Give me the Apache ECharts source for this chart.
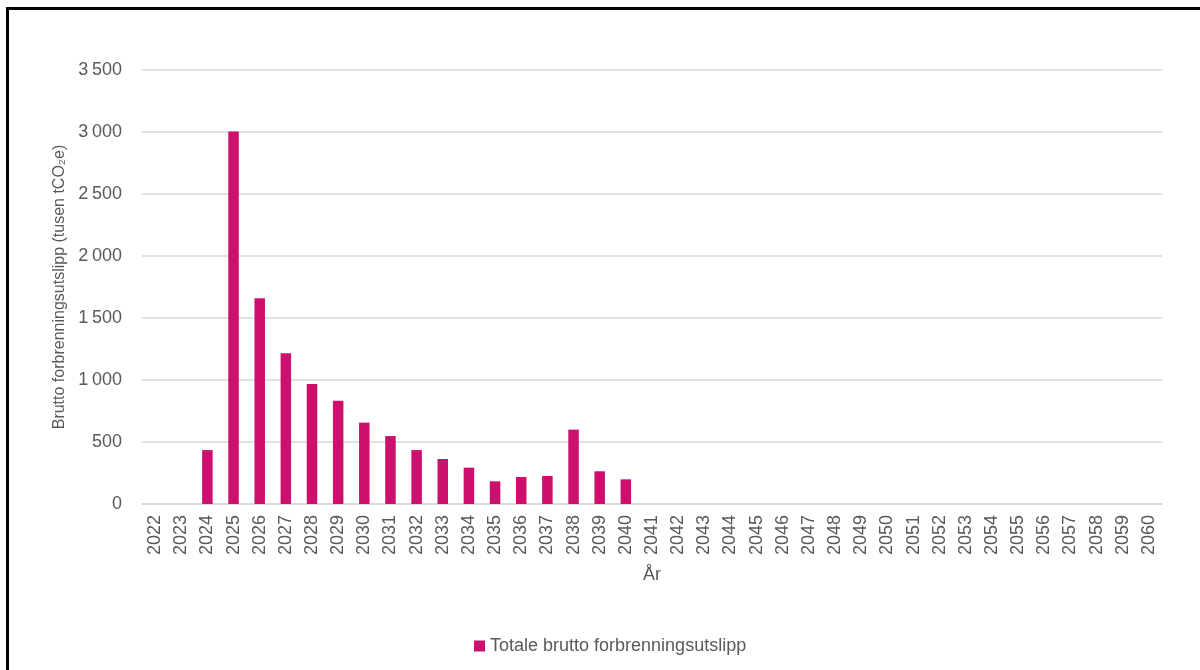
<!DOCTYPE html>
<html>
<head>
<meta charset="utf-8">
<script src="https://cdn.jsdelivr.net/npm/echarts@6/dist/echarts.min.js"></script>
<style>
  html, body { margin: 0; padding: 0; background: #fff; }
  #frame { position: absolute; left: 6px; top: 7px; width: 1300px; height: 800px;
           border-left: 3px solid #000; border-top: 3px solid #000; box-sizing: border-box; }
  #chart { position: absolute; left: 0; top: 0; width: 1200px; height: 670px; }
</style>
</head>
<body>
<div id="frame"></div>
<div id="chart"></div>
<script>
const years = ['2022','2023','2024','2025','2026','2027','2028','2029','2030','2031','2032','2033','2034','2035','2036','2037','2038','2039','2040','2041','2042','2043','2044','2045','2046','2047','2048','2049','2050','2051','2052','2053','2054','2055','2056','2057','2058','2059','2060'];
const emissions = [0, 0, 435, 3005, 1660, 1215, 968, 833, 656, 548, 435, 363, 293, 183, 218, 226, 600, 264, 199, 0, 0, 0, 0, 0, 0, 0, 0, 0, 0, 0, 0, 0, 0, 0, 0, 0, 0, 0, 0];
const seriesName = 'Totale brutto forbrenningsutslipp';
const yAxisName = 'Brutto forbrenningsutslipp (tusen tCO\u2082e)';
const xAxisName = 'År';

const textColor = '#595959';
const font = 'Liberation Sans, Arial, sans-serif';

const chart = echarts.init(document.getElementById('chart'), null, { renderer: 'canvas' });
chart.setOption({
  animation: false,
  backgroundColor: 'transparent',
  grid: { left: 142, right: 38, top: 70, bottom: 166, containLabel: false },
  legend: {
    left: 469, top: 632,
    itemWidth: 11, itemHeight: 11, itemGap: 6,
    icon: 'rect',
    textStyle: { color: textColor, fontSize: 18, fontFamily: font, padding: [0, 0, 0, 0] },
    data: [seriesName]
  },
  xAxis: {
    type: 'category',
    data: years,
    name: xAxisName,
    nameLocation: 'middle',
    nameGap: 62,
    nameTextStyle: { color: textColor, fontSize: 18, fontFamily: font },
    axisLine: { show: true, lineStyle: { color: '#D9D9D9', width: 1.5 } },
    axisTick: { show: false },
    axisLabel: { rotate: 90, interval: 0, margin: 11, color: textColor, fontSize: 18, fontFamily: font }
  },
  yAxis: {
    type: 'value',
    min: 0, max: 3500, interval: 500,
    name: yAxisName,
    nameLocation: 'middle',
    nameRotate: 90,
    nameGap: 72,
    nameTextStyle: { color: textColor, fontSize: 16, fontFamily: font },
    axisLine: { show: false },
    axisTick: { show: false },
    splitLine: { lineStyle: { color: '#D9D9D9', width: 1.5 } },
    axisLabel: {
      margin: 20, color: textColor, fontSize: 18, fontFamily: font,
      formatter: v => String(v).replace(/\B(?=(\d{3})+(?!\d))/g, '\u2009')
    }
  },
  series: [{
    name: seriesName,
    type: 'bar',
    data: emissions,
    barWidth: 10.5,
    itemStyle: { color: '#CD0F6D' }
  }]
});
</script>
</body>
</html>
